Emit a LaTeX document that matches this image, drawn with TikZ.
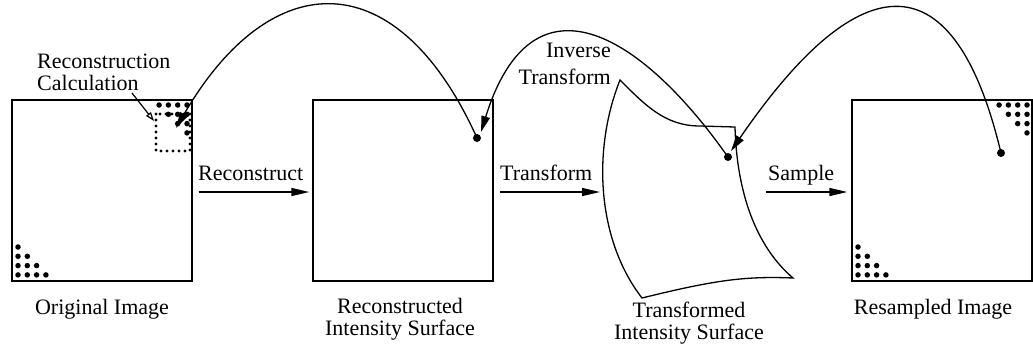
\documentclass[tikz,border=0pt]{standalone}
\usepackage{fontspec}
\setmainfont{Liberation Serif}
\usetikzlibrary{arrows.meta}
\begin{document}
\begin{tikzpicture}[
    x=1pt, y=-1pt,
    imgbox/.style={
        draw, line width=1.4pt, minimum width=180pt, minimum height=181pt,
        inner sep=0pt
    },
    pix/.style={circle, fill=black, inner sep=0pt, minimum size=5.5pt},
    hotdot/.style={circle, fill=black, inner sep=0pt, minimum size=8pt},
    lbl/.style={font=\fontsize{22}{22}\selectfont, inner sep=0pt},
    flow/.style={line width=1.4pt, -{Triangle[length=18pt,width=8pt]}},
    hop/.style={line width=1.3pt, -{Triangle[length=16pt,width=8.5pt]}},
    pointer/.style={line width=1.2pt, -{Triangle[open,length=9pt,width=6pt]}},
    dotsq/.style={line width=3.2pt, dash pattern=on 0pt off 6pt, line cap=round}
]
\useasboundingbox (0,0) rectangle (1033,346);

% ============================
% IMAGES
% ============================

% --- Original Image ---
\node[imgbox] (orig) at (102,190.5) {};
\foreach \k in {1,...,4}
    \foreach \j in {1,...,\k}
        \node[pix] (o-bl-\k-\j) at ({18+9.3*(\j-1)}, {247+9.3*(\k-1)}) {};
\foreach \k in {1,...,4}
    \foreach \j in {\k,...,4}
        \node[pix] (o-tr-\k-\j) at ({187-9.3*(4-\j)}, {105+9.3*(\k-1)}) {};
\draw[dotsq] (156,114) rectangle (190,151);

% --- Reconstructed Intensity Surface ---
\node[imgbox] (recon) at (403,190.5) {};
\node[hotdot] (hot2) at (477,138) {};

% --- Transformed Intensity Surface ---
\coordinate (wA) at (620,80);
\coordinate (wB) at (735,127);
\coordinate (wC) at (793,278);
\coordinate (wD) at (642,298);
\draw[line width=1.3pt, line join=miter]
    (wA) .. controls (645,105) and (665,126) .. (700,126) -- (wB)
    .. controls (737,200) and (760,250) .. (wC)
    .. controls (745,276) and (715,280) .. (wD)
    .. controls (597,240) and (592,150) .. (wA) -- cycle;
\node[hotdot] (hotT) at (728,157) {};

% --- Resampled Image ---
\node[imgbox] (resamp) at (942,190.5) {};
\foreach \k in {1,...,4}
    \foreach \j in {1,...,\k}
        \node[pix] (r-bl-\k-\j) at ({858+9.3*(\j-1)}, {247+9.3*(\k-1)}) {};
\foreach \k in {1,...,4}
    \foreach \j in {\k,...,4}
        \node[pix] (r-tr-\k-\j) at ({1027-9.3*(4-\j)}, {105+9.3*(\k-1)}) {};
\node[hotdot] (hot3) at (1001,153) {};

% ============================
% FORWARD STEPS
% ============================
\coordinate (tfrom) at (500,192);
\coordinate (tto) at (600,192);
\coordinate (sfrom) at (766,192);

\draw[flow] ([xshift=6pt,yshift=-1.5pt]orig.east) -- ([xshift=-3pt,yshift=-1.5pt]recon.west);
\draw[flow] (tfrom) -- (tto);
\draw[flow] (sfrom) -- ([xshift=-4pt,yshift=-1.5pt]resamp.west);

\node[lbl, anchor=base west] (reconlbl) at (198,180) {Reconstruct};
\node[lbl, anchor=base west] (translbl) at (500,180) {Transform};
\node[lbl, anchor=base west] (samplbl) at (768,180) {Sample};

% ============================
% BACKWARD ARCS
% ============================
\coordinate (tip1) at (176,128);
\coordinate (tip2) at (481,132);
\coordinate (tip3) at (731,151);

\draw[hop] (hot2.center) .. controls (398,-37) and (272,-37) .. (tip1);
\draw[hop] (hotT.center) .. controls (640,32) and (532,-32) .. (tip2);
\draw[hop] (hot3.center) .. controls (955,-40) and (862,-40) .. (tip3);

\node[lbl, anchor=north east, align=right] (invlbl) at (611,43) {Inverse\\[5pt]Transform};

% ============================
% CAPTIONS
% ============================
\node[lbl, anchor=north west, align=left] (calclbl) at (37,54) {Reconstruction\\Calculation};
\coordinate (calcfrom) at (132,93);
\draw[pointer] (calcfrom) -- (154,121);

\node[lbl, anchor=north] (origcap) at (102,299) {Original Image};
\node[lbl, anchor=north, align=center] (reconcap) at (400,298) {Reconstructed\\Intensity Surface};
\node[lbl, anchor=north, align=center] (transcap) at (689,302) {Transformed\\Intensity Surface};
\node[lbl, anchor=north] (resampcap) at (933,299) {Resampled Image};

\end{tikzpicture}
\end{document}
